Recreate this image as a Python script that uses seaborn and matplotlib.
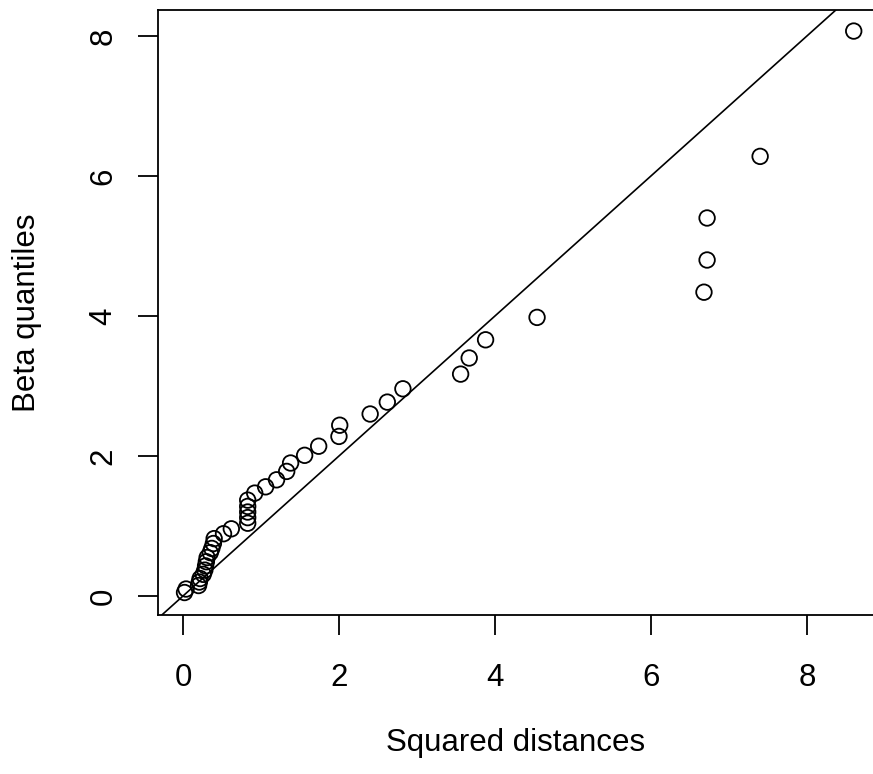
import matplotlib
matplotlib.use("Agg")
import matplotlib.pyplot as plt
import seaborn as sns
import pandas as pd

# Squared Mahalanobis distances (sorted) and matching beta quantiles
squared_distances = [0.02, 0.04, 0.20, 0.21, 0.22, 0.26, 0.28, 0.29, 0.30, 0.31,
                     0.35, 0.37, 0.39, 0.40, 0.52, 0.62, 0.83, 0.83, 0.83, 0.83,
                     0.83, 0.92, 1.06, 1.20, 1.33, 1.38, 1.56, 1.74, 2.00, 2.01,
                     2.40, 2.62, 2.82, 3.56, 3.67, 3.88, 4.54, 6.68, 6.72, 6.72,
                     7.40, 8.60]
beta_quantiles = [0.05, 0.10, 0.15, 0.20, 0.25, 0.31, 0.37, 0.43, 0.49, 0.55,
                  0.62, 0.68, 0.75, 0.82, 0.89, 0.96, 1.04, 1.12, 1.20, 1.28,
                  1.37, 1.47, 1.56, 1.66, 1.78, 1.90, 2.01, 2.14, 2.28, 2.44,
                  2.60, 2.77, 2.96, 3.17, 3.40, 3.66, 3.98, 4.34, 4.80, 5.40,
                  6.28, 8.07]
x_ticks = [0, 2, 4, 6, 8]
y_ticks = [0, 2, 4, 6, 8]

df = pd.DataFrame({"Squared distances": squared_distances,
                   "Beta quantiles": beta_quantiles})

sns.set_style("white")
plt.rcParams['font.family'] = ['Liberation Sans', 'DejaVu Sans']

W, H = 873, 774
fig = plt.figure(figsize=(W / 100, H / 100), dpi=100)
ax = fig.add_axes([158 / W, (H - 615) / H, (874 - 158) / W, (615 - 10) / H])

sns.scatterplot(data=df, x="Squared distances", y="Beta quantiles", ax=ax,
                marker="o", s=125, facecolor="none", edgecolor="black",
                linewidth=1.3, zorder=3)
ax.axline((0, 0), slope=1, color="black", linewidth=1.2, zorder=2)

ax.set_xlim(-0.32, 8.86)
ax.set_ylim(-0.271, 8.371)
ax.set_xticks(x_ticks)
ax.set_yticks(y_ticks)
ax.set_xticklabels([str(t) for t in x_ticks])
ax.set_yticklabels([str(t) for t in y_ticks], rotation=90, va="center")

for sp in ax.spines.values():
    sp.set_color("black")
    sp.set_linewidth(1.3)

ax.tick_params(axis="both", which="both", direction="out", length=14.4,
               width=1.3, color="black", labelsize=22.5, labelcolor="black")
ax.tick_params(axis="x", pad=20, bottom=True)
ax.tick_params(axis="y", pad=14, left=True)

ax.set_xlabel("Squared distances", fontsize=22.5, color="black")
ax.set_ylabel("Beta quantiles", fontsize=22.5, color="black")
ax.xaxis.set_label_coords((516 - 158) / (874 - 158), (615 - 743) / 605)
ax.yaxis.set_label_coords((27 - 158) / (874 - 158), 0.5)
ax.xaxis.label.set_va("center")
ax.yaxis.label.set_va("center")
ax.grid(False)

fig.savefig("out.png", dpi=100)
